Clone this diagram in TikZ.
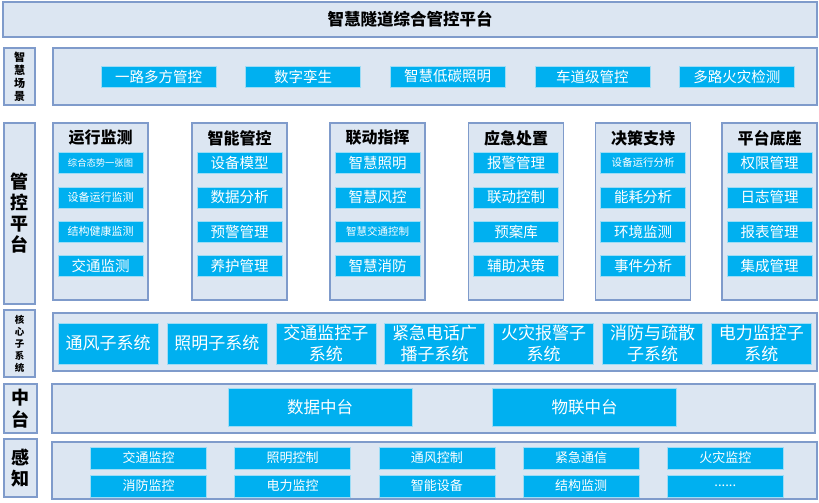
\documentclass[tikz,border=0pt]{standalone}
\usepackage{fontspec}
\setmainfont{Noto Sans CJK SC}
\usetikzlibrary{positioning}

\definecolor{panelfill}{HTML}{DCE6F2}
\definecolor{panelline}{HTML}{7F9BCB}
\definecolor{itemfill}{HTML}{00B0F0}
\definecolor{itemline}{HTML}{9DDCF5}
\newcommand{\fsz}[1]{\fontsize{#1}{#1}\selectfont}

\begin{document}
\begin{tikzpicture}[x=1pt, y=-1pt,
    panel/.style={rectangle, draw=panelline, fill=panelfill, line width=1.2pt, inner sep=0pt},
    item/.style={rectangle, draw=itemline, fill=itemfill, line width=0.6pt, inner sep=0pt, text=white, align=center},
    head/.style={font=\fsz{16}\bfseries},
    side/.style={panel, align=center}]
    \useasboundingbox (0,0) rectangle (819,503);

    % Title
    \node [panel, minimum width=814pt, minimum height=35pt] (title) at (410,19.5) {};
    \node [font=\fsz{16.5}\bfseries] (titletext) at (title.center) {智慧隧道综合管控平台};

    % Scenes
    \node [side, minimum width=31pt, minimum height=57pt, font=\fontsize{11}{13}\selectfont\bfseries] (lscene) at (19.5,76.5) {智\\慧\\场\\景};
    \node [panel, minimum width=764pt, minimum height=57pt] (scene) at (435,76.5) {};
    \node [item, minimum width=115pt, minimum height=21pt, font=\fsz{14.5}] (sc1) at (158.5,76.5) {一路多方管控};
    \node [item, minimum width=115pt, minimum height=21pt, font=\fsz{14.5}, right=29pt of sc1] (sc2) {数字孪生};
    \node [item, minimum width=115pt, minimum height=21pt, font=\fsz{14.5}, right=29pt of sc2] (sc3) {智慧低碳照明};
    \node [item, minimum width=115pt, minimum height=21pt, font=\fsz{14.5}, right=29pt of sc3] (sc4) {车道级管控};
    \node [item, minimum width=115pt, minimum height=21pt, font=\fsz{14.5}, right=29pt of sc4] (sc5) {多路火灾检测};

    % Platform
    \node [side, minimum width=31pt, minimum height=181pt, font=\fontsize{18}{21}\selectfont\bfseries] (lplat) at (19.5,213.5) {管\\控\\平\\台};
    \node [panel, minimum width=95pt, minimum height=177pt] (col1) at (100.5,211.5) {};
    \node [panel, minimum width=95pt, minimum height=177pt] (col2) at (239.5,211.5) {};
    \node [panel, minimum width=95pt, minimum height=177pt] (col3) at (377.5,211.5) {};
    \node [panel, minimum width=95pt, minimum height=177pt] (col4) at (516,211.5) {};
    \node [panel, minimum width=95pt, minimum height=177pt] (col5) at (643,211.5) {};
    \node [panel, minimum width=95pt, minimum height=177pt] (col6) at (769.5,211.5) {};

    \node [head] (h1) at (100.5,138) {运行监测};
    \node [head] (h2) at (239.5,138) {智能管控};
    \node [head] (h3) at (377.5,138) {联动指挥};
    \node [head] (h4) at (516,138) {应急处置};
    \node [head] (h5) at (643,138) {决策支持};
    \node [head] (h6) at (769.5,138) {平台底座};

    \node [item, minimum width=85pt, minimum height=21pt, font=\fsz{9.3}] (a1) at (100.5,163) {综合态势一张图};
    \node [item, minimum width=85pt, minimum height=21pt, font=\fsz{11}, below=12.7pt of a1] (a2) {设备运行监测};
    \node [item, minimum width=85pt, minimum height=21pt, font=\fsz{11}, below=12.7pt of a2] (a3) {结构健康监测};
    \node [item, minimum width=85pt, minimum height=21pt, font=\fsz{14.5}, below=12.7pt of a3] (a4) {交通监测};

    \node [item, minimum width=85pt, minimum height=21pt, font=\fsz{14.5}] (b1) at (239.5,163) {设备模型};
    \node [item, minimum width=85pt, minimum height=21pt, font=\fsz{14.5}, below=12.7pt of b1] (b2) {数据分析};
    \node [item, minimum width=85pt, minimum height=21pt, font=\fsz{14.5}, below=12.7pt of b2] (b3) {预警管理};
    \node [item, minimum width=85pt, minimum height=21pt, font=\fsz{14.5}, below=12.7pt of b3] (b4) {养护管理};

    \node [item, minimum width=85pt, minimum height=21pt, font=\fsz{14.5}] (c1) at (377.5,163) {智慧照明};
    \node [item, minimum width=85pt, minimum height=21pt, font=\fsz{14.5}, below=12.7pt of c1] (c2) {智慧风控};
    \node [item, minimum width=85pt, minimum height=21pt, font=\fsz{10.5}, below=12.7pt of c2] (c3) {智慧交通控制};
    \node [item, minimum width=85pt, minimum height=21pt, font=\fsz{14.5}, below=12.7pt of c3] (c4) {智慧消防};

    \node [item, minimum width=85pt, minimum height=21pt, font=\fsz{14.5}] (d1) at (516,163) {报警管理};
    \node [item, minimum width=85pt, minimum height=21pt, font=\fsz{14.5}, below=12.7pt of d1] (d2) {联动控制};
    \node [item, minimum width=85pt, minimum height=21pt, font=\fsz{14.5}, below=12.7pt of d2] (d3) {预案库};
    \node [item, minimum width=85pt, minimum height=21pt, font=\fsz{14.5}, below=12.7pt of d3] (d4) {辅助决策};

    \node [item, minimum width=85pt, minimum height=21pt, font=\fsz{10.5}] (e1) at (643,163) {设备运行分析};
    \node [item, minimum width=85pt, minimum height=21pt, font=\fsz{14.5}, below=12.7pt of e1] (e2) {能耗分析};
    \node [item, minimum width=85pt, minimum height=21pt, font=\fsz{14.5}, below=12.7pt of e2] (e3) {环境监测};
    \node [item, minimum width=85pt, minimum height=21pt, font=\fsz{14.5}, below=12.7pt of e3] (e4) {事件分析};

    \node [item, minimum width=85pt, minimum height=21pt, font=\fsz{14.5}] (f1) at (769.5,163) {权限管理};
    \node [item, minimum width=85pt, minimum height=21pt, font=\fsz{14.5}, below=12.7pt of f1] (f2) {日志管理};
    \node [item, minimum width=85pt, minimum height=21pt, font=\fsz{14.5}, below=12.7pt of f2] (f3) {报表管理};
    \node [item, minimum width=85pt, minimum height=21pt, font=\fsz{14.5}, below=12.7pt of f3] (f4) {集成管理};

    % Core subsystems
    \node [side, minimum width=31pt, minimum height=67pt, font=\fontsize{9.5}{12}\selectfont\bfseries] (lcore) at (19.5,343.5) {核\\心\\子\\系\\统};
    \node [panel, minimum width=764pt, minimum height=58pt] (core) at (435,342) {};
    \node [item, minimum width=100pt, minimum height=41pt, font=\fontsize{17}{21}\selectfont] (k1) at (108,343.5) {通风子系统};
    \node [item, minimum width=100pt, minimum height=41pt, font=\fontsize{17}{21}\selectfont, right=8.3pt of k1] (k2) {照明子系统};
    \node [item, minimum width=100pt, minimum height=41pt, font=\fontsize{17}{21}\selectfont, right=8.3pt of k2] (k3) {交通监控子\\系统};
    \node [item, minimum width=100pt, minimum height=41pt, font=\fontsize{17}{21}\selectfont, right=8.3pt of k3] (k4) {紧急电话广\\播子系统};
    \node [item, minimum width=100pt, minimum height=41pt, font=\fontsize{17}{21}\selectfont, right=8.3pt of k4] (k5) {火灾报警子\\系统};
    \node [item, minimum width=100pt, minimum height=41pt, font=\fontsize{17}{21}\selectfont, right=8.3pt of k5] (k6) {消防与疏散\\子系统};
    \node [item, minimum width=100pt, minimum height=41pt, font=\fontsize{17}{21}\selectfont, right=8.3pt of k6] (k7) {电力监控子\\系统};

    % Middle platform
    \node [side, minimum width=33pt, minimum height=49pt, font=\fontsize{18}{22}\selectfont\bfseries] (lmid) at (20.5,408.5) {中\\台};
    \node [panel, minimum width=763pt, minimum height=49pt] (mid) at (433.5,408.5) {};
    \node [item, minimum width=184pt, minimum height=38pt, font=\fsz{16.5}] (m1) at (320,407) {数据中台};
    \node [item, minimum width=184pt, minimum height=38pt, font=\fsz{16.5}, right=80pt of m1] (m2) {物联中台};

    % Sensing
    \node [side, minimum width=33pt, minimum height=58pt, font=\fontsize{18}{21}\selectfont\bfseries] (lsense) at (20.5,468) {感\\知};
    \node [panel, minimum width=765pt, minimum height=57pt] (sense) at (434.5,470.5) {};
    \node [item, minimum width=116pt, minimum height=22pt, font=\fsz{13}] (p1) at (148.5,458) {交通监控};
    \node [item, minimum width=116pt, minimum height=22pt, font=\fsz{13}, right=27.6pt of p1] (p2) {照明控制};
    \node [item, minimum width=116pt, minimum height=22pt, font=\fsz{13}, right=27.6pt of p2] (p3) {通风控制};
    \node [item, minimum width=116pt, minimum height=22pt, font=\fsz{13}, right=27.6pt of p3] (p4) {紧急通信};
    \node [item, minimum width=116pt, minimum height=22pt, font=\fsz{13}, right=27.6pt of p4] (p5) {火灾监控};
    \node [item, minimum width=116pt, minimum height=22pt, font=\fsz{13}] (q1) at (148.5,486) {消防监控};
    \node [item, minimum width=116pt, minimum height=22pt, font=\fsz{13}, right=27.6pt of q1] (q2) {电力监控};
    \node [item, minimum width=116pt, minimum height=22pt, font=\fsz{13}, right=27.6pt of q2] (q3) {智能设备};
    \node [item, minimum width=116pt, minimum height=22pt, font=\fsz{13}, right=27.6pt of q3] (q4) {结构监测};
    \node [item, minimum width=116pt, minimum height=22pt, font=\fsz{13}, right=27.6pt of q4] (q5) {......};
\end{tikzpicture}
\end{document}
